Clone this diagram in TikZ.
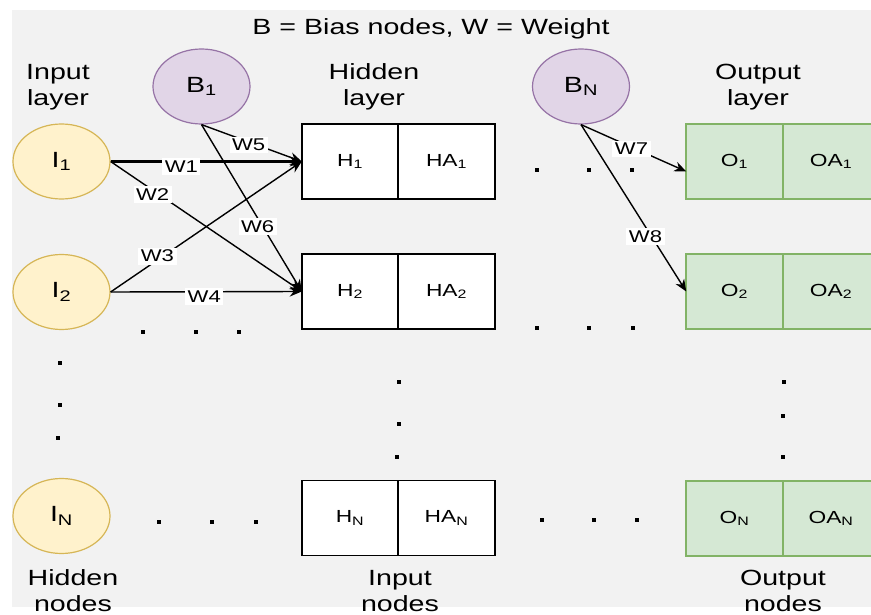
\documentclass[tikz,border=0pt]{standalone}
\usepackage{fontspec}
\setmainfont[FakeStretch=1.3]{Liberation Sans}
\usepackage{tikz}
\usetikzlibrary{positioning}
\usetikzlibrary{shapes.geometric}
\usetikzlibrary{arrows.meta}
\definecolor{bgGray}{HTML}{F2F2F2}
\definecolor{inFill}{HTML}{FFF2CC}
\definecolor{inStroke}{HTML}{D6B656}
\definecolor{biasFill}{HTML}{E1D5E7}
\definecolor{biasStroke}{HTML}{9673A6}
\definecolor{outFill}{HTML}{D5E8D4}
\definecolor{outStroke}{HTML}{82B366}

\begin{document}
\begin{tikzpicture}[x=1pt,y=-1pt,
		inputnode/.style={
			draw=inStroke,
			fill=inFill,
			ellipse,
			minimum width=97pt,
			minimum height=75pt,
			line width=1.2pt,
			font=\fontsize{22}{24}\selectfont
		},
		biasnode/.style={inputnode, draw=biasStroke, fill=biasFill},
		hcell/.style={
			draw,
			fill=white,
			rectangle,
			outer sep=0pt,
			minimum width=96.5pt,
			minimum height=75pt,
			line width=1.8pt,
			font=\fontsize{17.5}{18}\selectfont
		},
		ocell/.style={hcell, draw=outStroke, fill=outFill},
		caption/.style={align=center, font=\fontsize{22}{26}\selectfont},
		wire/.style={line width=1.4pt, -{Stealth[length=12pt,width=10pt]}},
		wlabel/.style={fill=white, inner sep=2.5pt, font=\fontsize{17}{17}\selectfont},
		dotpt/.style={fill, inner sep=0pt, minimum size=3.5pt}]
		\clip (0,0) rectangle (871,615);
		\fill[bgGray] (12,10) rectangle (871,607);
		
		\node[caption] (title) at (431,29) {B = Bias nodes, W = Weight};
		\node[caption] (inlayer) at (58,87) {Input\\layer};
		\node[caption] (hidlayer) at (374,87) {Hidden\\layer};
		\node[caption] (outlayer) at (758,87) {Output\\layer};
		\node[caption] (hidnodes) at (73,591) {Hidden\\nodes};
		\node[caption] (innodes) at (400,591) {Input\\nodes};
		\node[caption] (outnodes) at (783,591) {Output\\nodes};
		
		% input and bias nodes
		\node[inputnode] (I1) at (61.5,161.5) {I\textsubscript{1}};
		\node[inputnode] (I2) at (61.5,292) {I\textsubscript{2}};
		\node[inputnode] (IN) at (61.5,516) {I\textsubscript{N}};
		\node[biasnode] (B1) at (201.5,86.5) {B\textsubscript{1}};
		\node[biasnode] (BN) at (581,86.5) {B\textsubscript{N}};
		
		% hidden layer
		\node[hcell] (H1) at (350,161.5) {H\textsubscript{1}};
		\node[hcell, right=0pt of H1] (HA1) {HA\textsubscript{1}};
		\node[hcell] (H2) at (350,291.5) {H\textsubscript{2}};
		\node[hcell, right=0pt of H2] (HA2) {HA\textsubscript{2}};
		\node[hcell] (HN) at (350,518) {H\textsubscript{N}};
		\node[hcell, right=0pt of HN] (HAN) {HA\textsubscript{N}};
		
		% output layer
		\node[ocell] (O1) at (734.5,161.5) {O\textsubscript{1}};
		\node[ocell, right=0pt of O1] (OA1) {OA\textsubscript{1}};
		\node[ocell] (O2) at (734.5,291.5) {O\textsubscript{2}};
		\node[ocell, right=0pt of O2] (OA2) {OA\textsubscript{2}};
		\node[ocell] (ON) at (734.5,518.5) {O\textsubscript{N}};
		\node[ocell, right=0pt of ON] (OAN) {OA\textsubscript{N}};
		
		% weights
		\draw[wire, line width=3pt] (I1.east) -- node[wlabel, pos=0.37, yshift=-5pt] (w1) {W1} (H1.west);
		\draw[wire] (I1.east) -- node[wlabel, pos=0.22, yshift=-4pt] (w2) {W2} (H2.west);
		\draw[wire] (I2.east) -- node[wlabel, pos=0.245, yshift=4pt] (w3) {W3} (H1.west);
		\draw[wire] (I2.east) -- node[wlabel, pos=0.49, yshift=-5pt] (w4) {W4} (H2.west);
		\draw[wire] (B1.south) -- node[wlabel, pos=0.47, yshift=-3pt] (w5) {W5} (H1.west);
		\draw[wire] (B1.south) -- node[wlabel, pos=0.61, xshift=-5pt] (w6) {W6} (H2.west);
		\draw[wire] (BN.south) -- node[wlabel, pos=0.48, yshift=-2pt] (w7) {W7} ([yshift=-10pt]O1.west);
		\draw[wire] (BN.south) -- node[wlabel, pos=0.67, xshift=-6pt] (w8) {W8} (O2.west);
		
		% continuation dots
		\foreach \x/\y [count=\k] in {143/332, 196/332, 239/332, 60/363, 60/405, 58/438,
			159/522, 212/522, 256/522, 399/382, 399/424, 397/457,
			537/170, 589/170, 632/170, 537/328, 589/328, 633/328,
			542/520, 594/520, 637/520, 784/382, 783/416, 783/457}
			\node[dotpt] (dot\k) at (\x,\y) {};
	\end{tikzpicture}
\end{document}
